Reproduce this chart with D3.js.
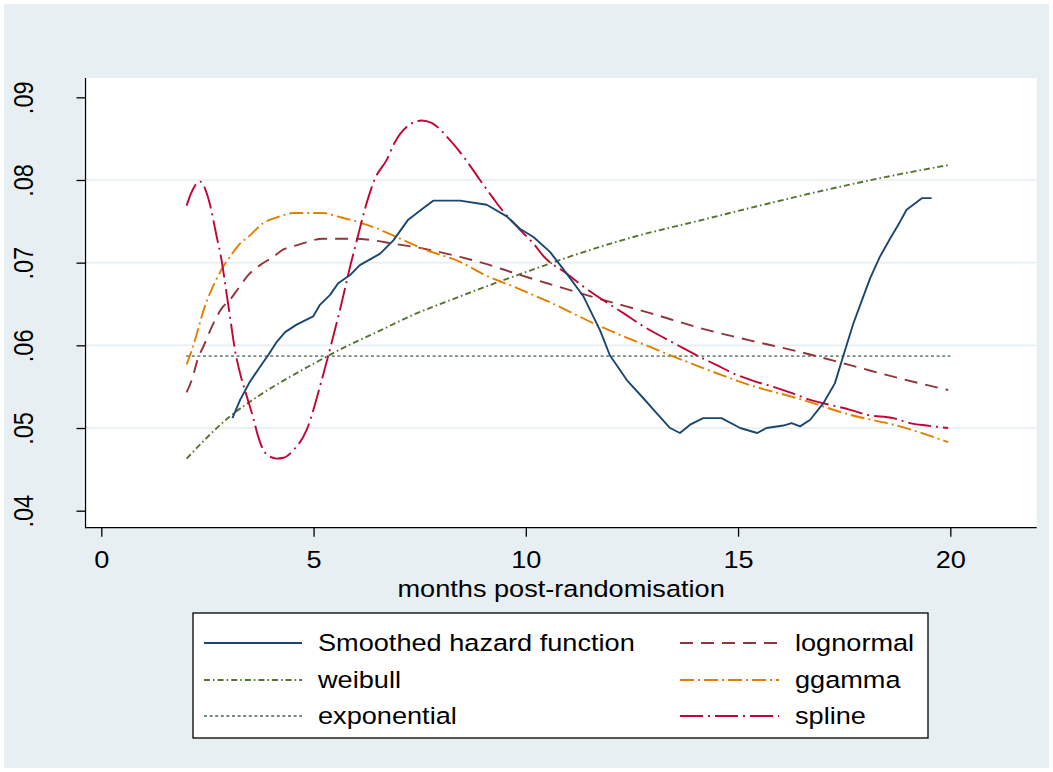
<!DOCTYPE html>
<html>
<head>
<meta charset="utf-8">
<script src="https://cdn.jsdelivr.net/npm/d3@7"></script>
<style>
  html, body { margin: 0; padding: 0; background: #ffffff; }
  svg { display: block; }
  text { font-family: "Liberation Sans", Arial, Helvetica, sans-serif; fill: #000; }
</style>
</head>
<body>
<svg id="chart" width="1053" height="772"></svg>
<script>
// ---------------- data ----------------
const xTicks = [0, 5, 10, 15, 20];
const yTicks = [0.04, 0.05, 0.06, 0.07, 0.08, 0.09];
const yGrid = [0.05, 0.06, 0.07, 0.08];
const xTitle = "months post-randomisation";

const hazardMonths = [3.09, 3.27, 3.50, 3.74, 3.93, 4.13, 4.33, 4.60, 4.99, 5.15, 5.39, 5.58, 5.86, 6.09, 6.57, 6.88, 7.23, 7.59, 7.82, 8.45, 9.08, 9.55, 9.86, 10.18, 10.57, 10.96, 11.36, 11.75, 11.98, 12.38, 12.77, 13.08, 13.40, 13.63, 13.87, 14.18, 14.61, 15.05, 15.45, 15.67, 16.07, 16.26, 16.46, 16.70, 17.01, 17.28, 17.52, 17.72, 17.95, 18.11, 18.34, 18.58, 18.81, 18.97, 19.33, 19.56];
const hazardValues = [0.0512, 0.0534, 0.0556, 0.0574, 0.0588, 0.0604, 0.0616, 0.0625, 0.0635, 0.0649, 0.0661, 0.0675, 0.0685, 0.0697, 0.0711, 0.0727, 0.0752, 0.0766, 0.0775, 0.0775, 0.0770, 0.0756, 0.0741, 0.0731, 0.0713, 0.0687, 0.0659, 0.0618, 0.0588, 0.0558, 0.0536, 0.0518, 0.0500, 0.0494, 0.0504, 0.0512, 0.0512, 0.0500, 0.0494, 0.0500, 0.0503, 0.0506, 0.0502, 0.0510, 0.0530, 0.0554, 0.0594, 0.0627, 0.0659, 0.0681, 0.0707, 0.0729, 0.0749, 0.0764, 0.0778, 0.0778];

const lognormalMonths = [2.01, 2.13, 2.29, 2.40, 2.60, 2.84, 3.03, 3.23, 3.46, 3.74, 4.05, 4.29, 4.60, 5.23, 5.86, 6.25, 6.88, 7.59, 8.45, 9.16, 9.63, 10.57, 11.75, 12.93, 14.10, 15.28, 16.46, 17.64, 18.81, 19.95];
const lognormalValues = [0.0543, 0.0558, 0.0586, 0.0598, 0.0622, 0.0645, 0.0655, 0.0669, 0.0685, 0.0697, 0.0707, 0.0716, 0.0721, 0.0729, 0.0729, 0.0728, 0.0723, 0.0717, 0.0707, 0.0697, 0.0689, 0.0674, 0.0656, 0.0639, 0.0621, 0.0606, 0.0592, 0.0576, 0.0560, 0.0546];

const weibullMonths = [2.01, 3.03, 3.74, 4.45, 5.15, 5.86, 6.41, 7.35, 8.29, 9.16, 9.86, 10.96, 12.53, 14.10, 15.67, 17.24, 18.81, 19.95];
const weibullValues = [0.0463, 0.0514, 0.0540, 0.0562, 0.0582, 0.0601, 0.0614, 0.0637, 0.0656, 0.0673, 0.0686, 0.0706, 0.0731, 0.0751, 0.0771, 0.0790, 0.0807, 0.0818];

const ggammaMonths = [2.01, 2.13, 2.25, 2.40, 2.56, 2.72, 2.87, 3.03, 3.23, 3.50, 3.82, 4.21, 4.52, 5.23, 5.55, 5.86, 6.41, 7.04, 7.67, 8.45, 9.08, 9.71, 10.57, 11.75, 12.93, 14.10, 15.28, 16.46, 17.64, 18.81, 19.95];
const ggammaValues = [0.0577, 0.0594, 0.0614, 0.0641, 0.0663, 0.0681, 0.0695, 0.0707, 0.0721, 0.0733, 0.0748, 0.0756, 0.0760, 0.0760, 0.0756, 0.0752, 0.0743, 0.0729, 0.0715, 0.0701, 0.0684, 0.0671, 0.0652, 0.0623, 0.0598, 0.0574, 0.0552, 0.0535, 0.0516, 0.0502, 0.0483];

const exponentialMonths = [2.0, 20.0];
const exponentialValues = [0.0587, 0.0587];

const splineMonths = [2.01, 2.07, 2.33, 2.52, 2.72, 2.84, 2.91, 3.03, 3.15, 3.27, 3.43, 3.58, 3.70, 3.86, 4.13, 4.29, 4.52, 4.84, 5.15, 5.43, 5.66, 5.86, 6.02, 6.25, 6.45, 6.72, 6.92, 7.19, 7.55, 7.78, 8.25, 8.65, 8.92, 9.23, 9.39, 9.86, 10.18, 10.45, 10.96, 11.36, 11.87, 12.30, 12.77, 13.08, 13.55, 14.10, 14.50, 14.89, 15.36, 15.75, 16.22, 16.70, 17.17, 17.64, 18.03, 18.66, 19.05, 19.44, 19.95];
const splineValues = [0.0769, 0.0778, 0.0798, 0.0778, 0.0731, 0.0701, 0.0677, 0.0635, 0.0594, 0.0566, 0.0538, 0.0512, 0.0489, 0.0470, 0.0463, 0.0464, 0.0473, 0.0498, 0.0550, 0.0604, 0.0651, 0.0695, 0.0727, 0.0772, 0.0802, 0.0824, 0.0846, 0.0864, 0.0872, 0.0869, 0.0846, 0.0820, 0.0800, 0.0778, 0.0767, 0.0740, 0.0723, 0.0706, 0.0687, 0.0671, 0.0653, 0.0639, 0.0623, 0.0614, 0.0601, 0.0586, 0.0576, 0.0566, 0.0557, 0.0551, 0.0543, 0.0534, 0.0528, 0.0522, 0.0516, 0.0512, 0.0506, 0.0503, 0.0500];

const seriesNames = ["Smoothed hazard function", "lognormal", "weibull", "ggamma", "exponential", "spline"];

// ---------------- styles / layout ----------------
const styles = {
  "Smoothed hazard function": { color: "#1a476f", dash: null, curve: d3.curveLinear },
  "lognormal":   { color: "#90353b", dash: "13,8", curve: d3.curveMonotoneX },
  "weibull":     { color: "#55752f", dash: "6,3,1.6,3", curve: d3.curveMonotoneX },
  "ggamma":      { color: "#e37e00", dash: "14,4,2,4", curve: d3.curveMonotoneX },
  "exponential": { color: "#6e8e84", dash: "3,2.6", curve: d3.curveLinear },
  "spline":      { color: "#c10534", dash: "23,5,2,5", curve: d3.curveMonotoneX }
};
const seriesData = {
  "Smoothed hazard function": [hazardMonths, hazardValues],
  "lognormal": [lognormalMonths, lognormalValues],
  "weibull": [weibullMonths, weibullValues],
  "ggamma": [ggammaMonths, ggammaValues],
  "exponential": [exponentialMonths, exponentialValues],
  "spline": [splineMonths, splineValues]
};

const W = 1053, H = 772;
const plot = { left: 85.5, right: 1036.7, top: 78, bottom: 527.7 };
const FS = 23.5, SX = 1.155;   // font size and horizontal stretch of text

const svg = d3.select("#chart");

// background
svg.append("rect").attr("x", 0).attr("y", 0).attr("width", W).attr("height", H).attr("fill", "#ffffff");
svg.append("rect").attr("x", 4).attr("y", 4).attr("width", W - 8).attr("height", H - 8).attr("fill", "#e8eff2");
svg.append("rect").attr("x", plot.left - 2).attr("y", plot.top)
  .attr("width", plot.right - plot.left + 2).attr("height", plot.bottom - plot.top).attr("fill", "#ffffff");

// scales
const x = d3.scaleLinear().domain([0, 20]).range([101.3, 950.3]);
const y = d3.scaleLinear().domain([0.04, 0.09]).range([510.7, 97.3]);

// grid
svg.append("g").selectAll("line").data(yGrid).join("line")
  .attr("x1", plot.left).attr("x2", plot.right)
  .attr("y1", d => y(d)).attr("y2", d => y(d))
  .attr("stroke", "#e6eef1").attr("stroke-width", 1.6);

function stretchedText(g, px, py, str, anchor, rotate) {
  const t = g.append("text")
    .attr("transform", `translate(${px},${py}) scale(${SX},1)` + (rotate ? ` rotate(${rotate})` : ""))
    .attr("text-anchor", anchor)
    .attr("font-size", FS)
    .text(str);
  return t;
}

// axes (d3 axes for ticks)
const fmtY = d => d3.format(".2f")(d).replace(/^0/, "");
const yAxis = svg.append("g").attr("transform", `translate(${plot.left},0)`)
  .call(d3.axisLeft(y).tickValues(yTicks).tickSize(9).tickSizeOuter(0).tickFormat(fmtY));
yAxis.select(".domain").remove();
yAxis.selectAll(".tick line").attr("stroke", "#000").attr("stroke-width", 1.3);
yAxis.selectAll(".tick text").remove();
yAxis.selectAll(".tick").each(function(d) {
  stretchedText(d3.select(this), -52.5, 0, fmtY(d), "middle", -90);
});

const xAxis = svg.append("g").attr("transform", `translate(0,${plot.bottom})`)
  .call(d3.axisBottom(x).tickValues(xTicks).tickSize(9).tickSizeOuter(0).tickFormat(d3.format("d")));
xAxis.select(".domain").remove();
xAxis.selectAll(".tick line").attr("stroke", "#000").attr("stroke-width", 1.3);
xAxis.selectAll(".tick text").remove();
xAxis.selectAll(".tick").each(function(d) {
  stretchedText(d3.select(this), 0, 40.6, String(d), "middle", 0);
});

// axis lines
svg.append("line").attr("x1", plot.left).attr("x2", plot.left).attr("y1", plot.top).attr("y2", plot.bottom + 0.6)
  .attr("stroke", "#000").attr("stroke-width", 1.3);
svg.append("line").attr("x1", plot.left).attr("x2", plot.right).attr("y1", plot.bottom).attr("y2", plot.bottom)
  .attr("stroke", "#000").attr("stroke-width", 1.3);

// x title
stretchedText(svg, (plot.left + plot.right) / 2, 597, xTitle, "middle", 0);

// lines
const drawOrder = ["exponential", "weibull", "lognormal", "ggamma", "spline", "Smoothed hazard function"];
drawOrder.forEach(name => {
  const [ms, vs] = seriesData[name];
  const pts = ms.map((m, i) => [m, vs[i]]);
  const st = styles[name];
  const line = d3.line().x(d => x(d[0])).y(d => y(d[1])).curve(st.curve);
  svg.append("path").datum(pts)
    .attr("d", line)
    .attr("fill", "none")
    .attr("stroke", st.color)
    .attr("stroke-width", 1.9)
    .attr("stroke-dasharray", st.dash)
    .attr("stroke-linejoin", "round");
});

// legend
const leg = { x: 193, y: 613, w: 735, h: 125 };
svg.append("rect").attr("x", leg.x).attr("y", leg.y).attr("width", leg.w).attr("height", leg.h)
  .attr("fill", "#ffffff").attr("stroke", "#000").attr("stroke-width", 1.3);
const rowY = [643, 680, 716];
const colSample = [[204, 302], [680, 779]];
const colText = [318, 795];
seriesNames.forEach((name, i) => {
  const row = Math.floor(i / 2), col = i % 2;
  const st = styles[name];
  svg.append("line")
    .attr("x1", colSample[col][0]).attr("x2", colSample[col][1])
    .attr("y1", rowY[row]).attr("y2", rowY[row])
    .attr("stroke", st.color).attr("stroke-width", 1.9)
    .attr("stroke-dasharray", st.dash);
  stretchedText(svg, colText[col], rowY[row] + 8.4, name, "start", 0);
});
</script>
</body>
</html>
